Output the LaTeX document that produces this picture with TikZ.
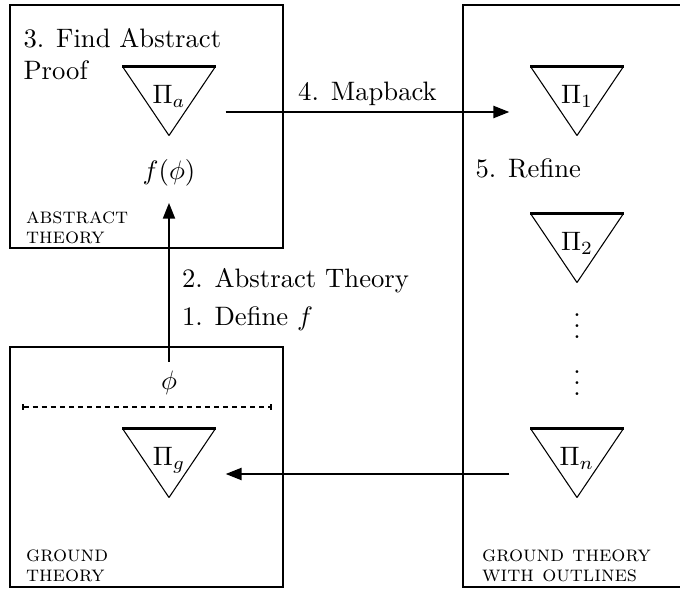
\documentclass[tikz,border=0pt]{standalone}
\usepackage{amsmath,amssymb}
\usepackage{tikz}
\usetikzlibrary{arrows.meta,positioning,calc}
\newcommand{\px}{0.375pt}
\tikzset{
  panel/.style={draw,line width=1.1pt,inner sep=0pt},
  tri/.style={inner sep=0pt,minimum width=92*\px,minimum height=68*\px,text depth=5pt,
    append after command={
      (\tikzlastnode.north west) edge[line width=0.4pt] (\tikzlastnode.south)
      (\tikzlastnode.north east) edge[line width=0.4pt] (\tikzlastnode.south)
      (\tikzlastnode.north west) edge[line width=1pt] (\tikzlastnode.north east)}},
  flow/.style={-{Triangle[length=6pt,width=4.4pt]},line width=1.1pt},
  tag/.style={font=\fontsize{8.3}{7.4}\selectfont\scshape,align=left,inner sep=0pt},
  note/.style={font=\normalsize,align=left},
  cut/.style={{Bar[width=2pt]}-{Bar[width=2pt]},line width=0.75pt,dash pattern=on 1.9pt off 1.5pt}
}
\begin{document}
\begin{tikzpicture}[x=0.375pt,y=-0.375pt]
  \useasboundingbox (0,0) rectangle (680,589);
  \clip (0,0) rectangle (680,589);
  % the three theories
  \node[panel,minimum width=273*\px,minimum height=243*\px] (abs) at (146.5,126.5) {};
  \node[panel,minimum width=273*\px,minimum height=240*\px] (gnd) at (146.5,467) {};
  \node[panel,minimum width=260*\px,minimum height=582*\px] (out) at (593,296) {};
  \node[tag,anchor=south west] (abstag) at ([shift={(17,-5)}]abs.south west) {abstract\\theory};
  \node[tag,anchor=south west] (gndtag) at ([shift={(17,-6)}]gnd.south west) {ground\\theory};
  \node[tag,anchor=south west] (outtag) at ([shift={(20,-6)}]out.south west) {ground theory\\with outlines};

  % proofs
  \node[tri] (pa) at (169,101) {$\Pi_a$};
  \node[tri] (p1) at (577,101) {$\Pi_1$};
  \node[tri] (p2) at (577,248) {$\Pi_2$};
  \node[tri] (pn) at (577,463) {$\Pi_n$};
  \node[tri] (pg) at (169,463) {$\Pi_g$};
  \node[inner sep=0pt] (dots1) at (577,318) {$\vdots$};
  \node[inner sep=0pt] (dots2) at (577,375) {$\vdots$};

  \node (fphi) at (169,173) {$f(\phi)$};
  \node (phi) at (169,383) {$\phi$};
  \coordinate (cutL) at (22,407);
  \coordinate (cutR) at (272,407);
  \draw[cut] (cutL) -- (cutR);

  \node[note,anchor=north west,inner sep=0pt] (find) at (23,27.5) {3. Find Abstract\\Proof};
  \node[note,anchor=base west,inner sep=0pt] (refine) at (475,178) {5. Refine};

  \draw[flow,shorten >=2.6pt] (phi) --
    node[note,right,pos=0.49,xshift=1pt]{2. Abstract Theory}
    node[note,right,pos=0.26,xshift=1pt]{1. Define $f$} (fphi);
  \draw[flow] ([shift={(10,11)}]pa.east) -- node[note,above,inner sep=2pt]{4. Mapback} ([shift={(-21,11)}]p1.west);
  \draw[flow] ([shift={(-21,11)}]pn.west) -- ([shift={(10,11)}]pg.east);
\end{tikzpicture}
\end{document}
